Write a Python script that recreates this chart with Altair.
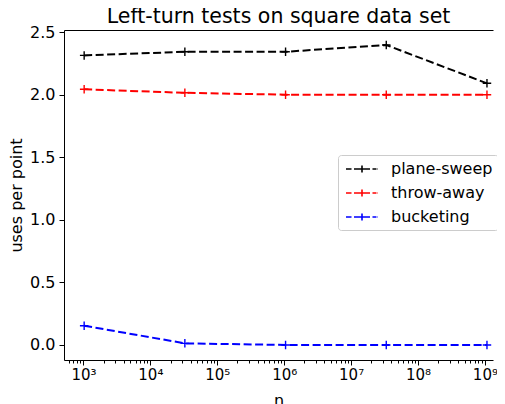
import altair as alt
import pandas as pd

# ---- data ----
n_values = [1024, 32768, 1048576, 33554432, 1073741824]
plane_sweep = [2.314, 2.343, 2.343, 2.397, 2.091]
throw_away = [2.043, 2.015, 2.0, 2.0, 2.0]
bucketing = [0.154, 0.013, 0.0, 0.0, 0.0]
series_names = ["plane-sweep", "throw-away", "bucketing"]
series_colors = ["black", "red", "blue"]

x_major_ticks = [1e3, 1e4, 1e5, 1e6, 1e7, 1e8, 1e9]
y_ticks = [0.0, 0.5, 1.0, 1.5, 2.0, 2.5]

x_lo, x_hi = 10 ** 2.709, 10 ** 9.121
x_minor_ticks = [m * 10 ** k for k in range(2, 10) for m in range(2, 10)
                 if x_lo <= m * 10 ** k <= x_hi]

rows = []
for name, vals in zip(series_names, [plane_sweep, throw_away, bucketing]):
    for n, v in zip(n_values, vals):
        rows.append({"n": n, "value": v, "series": name})
df = pd.DataFrame(rows)

FONT = "DejaVu Sans"
TICK_FS = 16
xscale = alt.Scale(type="log", domain=[x_lo, x_hi], nice=False)
yscale = alt.Scale(domain=[-0.12, 2.517], nice=False, zero=False)
cscale = alt.Scale(domain=series_names, range=series_colors)

yaxis = alt.Axis(values=y_ticks, format=".1f", title="uses per point",
                 grid=False, tickSize=5, tickWidth=1, tickColor="black",
                 domainColor="black", domainWidth=1, labelFontSize=TICK_FS,
                 labelColor="black", labelPadding=4, titleFontSize=16,
                 titleFontWeight="normal", titleColor="black", titlePadding=5,
                 labelFont=FONT, titleFont=FONT)
Y = alt.Y("value:Q", scale=yscale, axis=yaxis)

label_expr = ("'10' + ['⁰','¹','²','³','⁴','⁵','⁶','⁷','⁸','⁹']"
              "[round(log(datum.value)/LN10)]")

legend_path = ("M-2,0H-1.31M-1,0H-0.31M-0.44,0H0.44M0,-0.44V0.44"
               "M0.31,0H1M1.31,0H1.81M1.94,0H2")

lines = alt.Chart(df).mark_line(strokeDash=[8, 3.5], strokeWidth=2).encode(
    x=alt.X("n:Q", scale=xscale,
            axis=alt.Axis(values=x_major_ticks, labelExpr=label_expr,
                          title="n", grid=False, orient="bottom",
                          tickSize=5, tickWidth=1, tickColor="black",
                          domainColor="black", domainWidth=1,
                          labelFontSize=15, labelColor="black",
                          labelPadding=2, labelFlush=False,
                          titleFontSize=16, titleFontWeight="normal",
                          titleColor="black", titlePadding=10,
                          labelFont=FONT, titleFont=FONT)),
    y=Y,
    color=alt.Color("series:N", scale=cscale, sort=series_names,
                    legend=alt.Legend(
                        title=None, orient="none", legendX=274, legendY=125,
                        symbolType=legend_path, symbolSize=256,
                        symbolStrokeWidth=1.6, symbolFillColor="transparent",
                        symbolOffset=10, labelOffset=20, rowPadding=7,
                        padding=5, labelFontSize=16, labelFont=FONT,
                        labelColor="black",
                        fillColor="rgba(255,255,255,0.8)",
                        strokeColor="#cccccc", cornerRadius=3)),
)

points = alt.Chart(df).mark_point(
    shape="M-1,0H1M0,-1V1", size=72, strokeWidth=1.4, filled=False, opacity=1
).encode(
    x=alt.X("n:Q", scale=xscale,
            axis=alt.Axis(values=x_minor_ticks, labels=False, title=None,
                          grid=False, orient="bottom", domain=False,
                          tickSize=3, tickWidth=1, tickColor="black")),
    y=Y,
    color=alt.Color("series:N", scale=cscale, sort=series_names, legend=None),
)

top_frame = alt.Chart(df).mark_point(opacity=0).encode(
    x=alt.X("n:Q", scale=xscale,
            axis=alt.Axis(orient="top", labels=False, ticks=False, title=None,
                          grid=False, domain=True, domainColor="black",
                          domainWidth=1)),
    y=Y,
)

chart = alt.layer(lines, points, top_frame).resolve_scale(
    x="shared"
).resolve_axis(
    x="independent"
).properties(
    width=429, height=330,
    autosize=alt.AutoSizeParams(type="none"),
    padding={"left": 56, "top": 22, "right": 4, "bottom": 44},
    title=alt.TitleParams("Left-turn tests on square data set", fontSize=20.5,
                          font=FONT, fontWeight="normal", color="black",
                          anchor="middle", offset=6, dy=9.5),
).configure_view(stroke=None)

chart.save("out.html", embed_options={"renderer": "svg", "actions": False})
